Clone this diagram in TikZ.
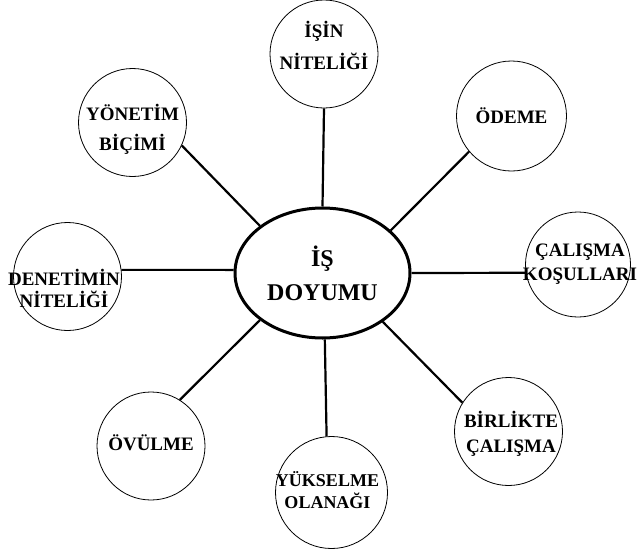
\documentclass[tikz,border=0pt]{standalone}
\usepackage{fontspec}
\setmainfont{Liberation Serif}
\usepackage{tikz}
\usetikzlibrary{shapes.geometric, positioning}

\begin{document}
\begin{tikzpicture}[
  x=1pt, y=-1pt,
  bubble/.style={circle, draw=black, line width=0.8pt, minimum size=108pt, inner sep=0pt},
  tag/.style={align=center, inner sep=0pt, font=\bfseries\fontsize{19}{24}\selectfont},
  hub/.style={ellipse, draw=black, line width=3pt, minimum width=175pt, minimum height=130pt, inner sep=0pt, align=center, font=\bfseries\fontsize{24}{34}\selectfont},
  link/.style={line width=2.2pt}
]
\useasboundingbox (0,0) rectangle (638,552);

\node (hub) [hub] at (322.5,273) {İŞ\\DOYUMU};

% outer circles
\node (isin) [bubble] at (324,54) {};
\node (odeme) [bubble, minimum size=110pt] at (511.5,116) {};
\node (calisma) [bubble, minimum size=105pt] at (578,264.5) {};
\node (birlikte) [bubble] at (508.5,431.5) {};
\node (yukselme) [bubble, minimum size=112pt] at (331.5,492.5) {};
\node (ovulme) [bubble] at (151,446) {};
\node (denetim) [bubble] at (67.5,276.5) {};
\node (yonetim) [bubble] at (132.5,122.5) {};

% texts in the circles
\node (isintxt) [tag, font=\bfseries\fontsize{19}{32}\selectfont] at ([yshift=9pt]isin) {İŞİN\\NİTELİĞİ};
\node (odemetxt) [tag] at (odeme) {ÖDEME};
\node (calismatxt) [tag] at ([xshift=2pt]calisma) {ÇALIŞMA\\KOŞULLARI};
\node (birliktetxt) [tag, font=\bfseries\fontsize{19}{25}\selectfont] at ([xshift=2.5pt, yshift=-2pt]birlikte) {BİRLİKTE\\ÇALIŞMA};
\node (yukselmetxt) [tag, font=\bfseries\fontsize{18}{22}\selectfont] at ([xshift=-4pt, yshift=2pt]yukselme) {YÜKSELME\\OLANAĞI};
\node (ovulmetxt) [tag] at ([yshift=3.5pt]ovulme) {ÖVÜLME};
\node (denetimtxt) [tag, font=\bfseries\fontsize{19}{22}\selectfont] at ([xshift=-3.5pt, yshift=-12pt]denetim) {DENETİMİN\\NİTELİĞİ};
\node (yonetimtxt) [tag, font=\bfseries\fontsize{19}{30}\selectfont] at ([yshift=-7pt]yonetim) {YÖNETİM\\BİÇİMİ};

% spokes
\draw [link] (hub.north) -- (isin.south);
\draw [link] (hub.32) -- (odeme.-140);
\draw [link] (hub.east) -- (calisma.189);
\draw [link] (hub.-39.4) -- (birlikte.148);
\draw [link] (hub.-88) -- (yukselme.95.6);
\draw [link] (hub.-143.5) -- (ovulme.58);
\draw [link] (hub.178) -- (denetim.7);
\draw [link] (hub.143) -- (yonetim.-25);

\end{tikzpicture}
\end{document}
